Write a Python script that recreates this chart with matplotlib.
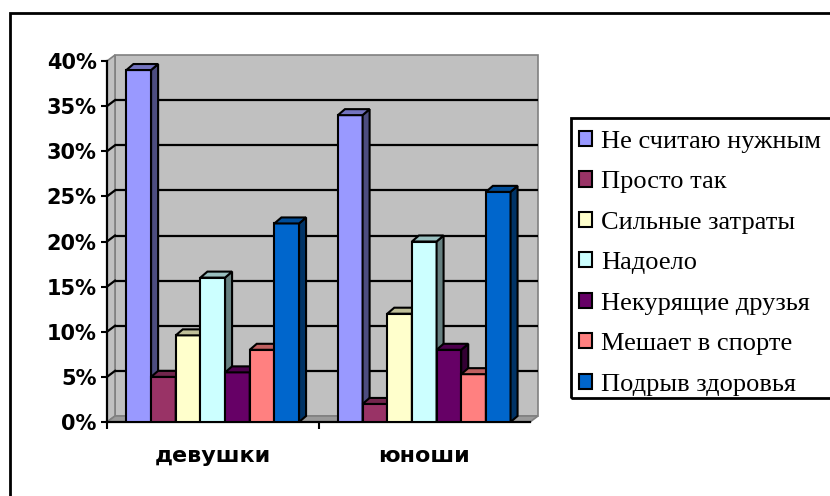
import matplotlib
matplotlib.use("Agg")
import matplotlib.pyplot as plt
from matplotlib.patches import Polygon, Rectangle

categories = ['девушки', 'юноши']
reasons = ['Не считаю нужным', 'Просто так', 'Сильные затраты', 'Надоело',
           'Некурящие друзья', 'Мешает в спорте', 'Подрыв здоровья']
girls = [39, 5, 9.6, 16, 5.5, 8, 22]
boys = [34, 2, 12, 20, 8, 5.3, 25.5]
yticks = [0, 5, 10, 15, 20, 25, 30, 35, 40]

front_colors = ['#9999FF', '#993366', '#FFFFCC', '#CCFFFF', '#660066', '#FF8080', '#0066CC']
side_colors = ['#4D4D80', '#4D1A33', '#808066', '#668080', '#330033', '#804040', '#003366']
top_colors = ['#7373BF', '#73264D', '#BFBF99', '#99BFBF', '#4D004D', '#BF6060', '#004D99']

W, H = 830, 496
fig = plt.figure(figsize=(W / 100, H / 100), dpi=100)

# plot area (front plane) in pixels
ax_l, ax_t, ax_r, ax_b = 107, 61, 530, 422
ax = fig.add_axes([ax_l / W, 1 - ax_b / H, (ax_r - ax_l) / W, (ax_b - ax_t) / H])
ax.set_xlim(-0.5, 1.5)
ax.set_ylim(0, 40)
ax.patch.set_visible(False)

def px_x(p):
    return p * 2.0 / (ax_r - ax_l)

def px_y(p):
    return p * 40.0 / (ax_b - ax_t)

wall_dx, wall_dy = px_x(8), px_y(6)
bar_dx, bar_dy = px_x(7), px_y(6)
x0, x1, ymax = -0.5, 1.5, 40

# back wall, side wall, floor
ax.add_patch(Polygon([(x0 + wall_dx, wall_dy), (x1 + wall_dx, wall_dy),
                      (x1 + wall_dx, ymax + wall_dy), (x0 + wall_dx, ymax + wall_dy)],
                     closed=True, fc='#C0C0C0', ec='#808080', lw=1.2, clip_on=False, zorder=0.5))
ax.add_patch(Polygon([(x0, 0), (x0 + wall_dx, wall_dy), (x0 + wall_dx, ymax + wall_dy), (x0, ymax)],
                     closed=True, fc='#C0C0C0', ec='#808080', lw=1.2, clip_on=False, zorder=0.6))
ax.add_patch(Polygon([(x0, 0), (x1, 0), (x1 + wall_dx, wall_dy), (x0 + wall_dx, wall_dy)],
                     closed=True, fc='#9A9A9A', ec='#808080', lw=1.2, clip_on=False, zorder=0.6))

# gridlines on the walls
for v in yticks[1:-1]:
    ax.plot([x0 + wall_dx, x1 + wall_dx], [v + wall_dy, v + wall_dy], color='k', lw=1.6,
            clip_on=False, zorder=1, solid_capstyle='butt')
    ax.plot([x0, x0 + wall_dx], [v, v + wall_dy], color='k', lw=1.6, clip_on=False, zorder=1)

# 3d bars
w = 0.1166
for gi, vals in enumerate([girls, boys]):
    for i, v in enumerate(vals):
        left = gi - 3.5 * w + i * w
        z = 3 + gi * 10 + i
        ax.bar(left, v, w, align='edge', color=front_colors[i], edgecolor='k', lw=1.5, zorder=z)
        ax.add_patch(Polygon([(left + w, 0), (left + w + bar_dx, bar_dy),
                              (left + w + bar_dx, v + bar_dy), (left + w, v)],
                             closed=True, fc=side_colors[i], ec='k', lw=1.5, zorder=z, clip_on=False))
        ax.add_patch(Polygon([(left, v), (left + w, v), (left + w + bar_dx, v + bar_dy),
                              (left + bar_dx, v + bar_dy)],
                             closed=True, fc=top_colors[i], ec='k', lw=1.5, zorder=z, clip_on=False))

# axes
for s in ['top', 'right']:
    ax.spines[s].set_visible(False)
for s in ['left', 'bottom']:
    ax.spines[s].set_linewidth(1.6)
    ax.spines[s].set_zorder(2)
ax.set_yticks(yticks)
ax.set_yticklabels([f'{v}%' for v in yticks], fontsize=15, fontweight='bold')
ax.tick_params(axis='y', length=4.5, width=1.5, pad=3)
ax.set_xticks([-0.5, 0.5])
ax.set_xticklabels([])
ax.tick_params(axis='x', which='major', length=5, width=1.5)
ax.set_xticks([0, 1], minor=True)
ax.set_xticklabels(categories, minor=True, fontsize=16, fontweight='bold')
ax.tick_params(axis='x', which='minor', length=0, pad=17)

# legend with its own frame
fig.add_artist(Rectangle((571 / W, 1 - 398 / H), 0.5, (398 - 118) / H, transform=fig.transFigure,
                         fill=False, ec='k', lw=2))
handles = [Rectangle((0, 0), 1, 1, fc=c, ec='k', lw=1.5) for c in front_colors]
fig.legend(handles, reasons, loc='upper left', bbox_to_anchor=(571 / W, 1 - 123 / H),
           frameon=False, prop={'family': 'Liberation Serif', 'size': 19},
           handlelength=0.5, handleheight=0.5, handletextpad=0.35, labelspacing=0.70,
           borderpad=0.3, borderaxespad=0)

# outer chart border
fig.add_artist(Rectangle((10 / W, -0.1), 1.0, 1.1 - 13 / H, transform=fig.transFigure,
                         fill=False, ec='k', lw=2))

fig.savefig('out.png', dpi=100)
